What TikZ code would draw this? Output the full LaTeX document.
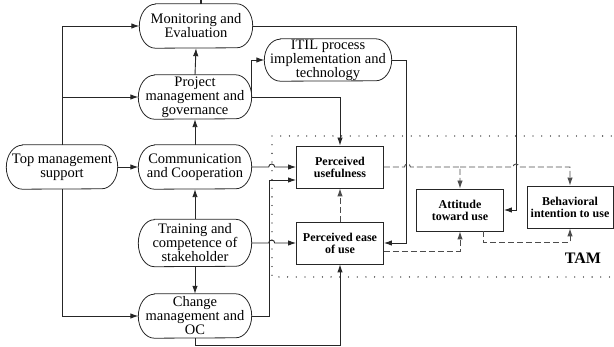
\documentclass[tikz,border=0pt]{standalone}
\usepackage{fontspec}
\setmainfont{Liberation Serif}
\usetikzlibrary{arrows.meta}

\tikzset{
  factor/.style={minimum width=113pt, minimum height=44pt, inner sep=0pt, align=center, font=\fontsize{14.5}{14}\selectfont},
  outline/.style={draw=black!85, line width=0.8pt},
  tambox/.style={draw=black!85, line width=0.9pt, minimum width=87pt, minimum height=42pt, inner sep=0pt, align=center, font=\fontsize{12}{12}\selectfont\bfseries},
  link/.style={->, draw=black!85, line width=0.9pt},
  tamlink/.style={->, draw=black!70, line width=0.9pt, dash pattern=on 6pt off 3pt},
  tamframe/.style={draw=black, line width=1.3pt, line cap=round, dash pattern=on 0pt off 8.7pt},
}

\begin{document}
\begin{tikzpicture}[x=1pt, y=-1pt, >={Latex[length=8pt,width=5.5pt]}]
    \useasboundingbox (0,0) rectangle (614,347);

    % Factors
    \node[factor] (mon) at (196,26) {Monitoring and\\Evaluation};
    \node[factor] (proj) at (195,97) {Project\\management and\\governance};
    \node[factor, minimum width=111pt] (top) at (62,167) {Top management\\support};
    \node[factor] (comm) at (195,167) {Communication\\and Cooperation};
    \node[factor, minimum height=47pt] (train) at (195,243) {Training and\\competence of\\stakeholder};
    \node[factor] (change) at (195,316) {Change\\management and\\OC};
    \node[factor, minimum width=127pt, minimum height=42pt, font=\fontsize{14.5}{13}\selectfont] (itil) at (328,60) {ITIL process\\implementation and\\technology};
    % stadium outlines
    \foreach \n/\h in {mon/22, proj/22, top/22, comm/22, train/23.5, change/22, itil/21}
        \draw[outline] ([xshift=16pt]\n.north west) -- ([xshift=-16pt]\n.north east)
            arc[start angle=-90, end angle=90, x radius=16, y radius=\h]
            -- ([xshift=16pt]\n.south west)
            arc[start angle=90, end angle=270, x radius=16, y radius=\h] -- cycle;

    % TAM
    \draw[tamframe] (620,136) -| (272,277) -- (620,277);
    \node[tambox] (pu) at (340,167) {Perceived\\usefulness};
    \node[tambox] (peu) at (340,243) {Perceived ease\\of use};
    \node[tambox] (att) at (460,210) {Attitude\\toward use};
    \node[tambox, minimum width=86pt] (bi) at (570,207) {Behavioral\\intention to use};
    \node[font=\fontsize{16}{16}\selectfont\bfseries] (tam) at (583,258) {TAM};

    % Links between factors
    \draw[link] (top.east) -- (comm.west);
    \draw[link] (top.north) |- (mon.west);
    \draw[link] (top.north) |- (proj.west);
    \draw[link] (top.south) |- (change.west);
    \draw[link] (comm.north) -- (proj.south);
    \draw[link] (proj.north) -- (mon.south);
    \draw[link] (train.north) -- (comm.south);
    \draw[link] (train.south) -- (change.north);
    \draw[link] (proj.east) |- (itil.west);
    \draw[link] (proj.east) -| (pu.north);
    \draw[draw=black!85, line width=1.2pt] ([xshift=5pt]mon.north) -- ++(0,-5);

    % Links into TAM
    \draw[link] (mon.east) -- ++(264,0) |- (att.east);
    \draw[link] (itil.east) -- ++(15,0) |- (peu.east);
    \draw[link] (comm.east) -- ++(17,0) arc[start angle=180, end angle=360, radius=3] -- (pu.west);
    \draw[link] (train.east) -- ++(17,0) arc[start angle=180, end angle=360, radius=3] -- (peu.west);
    \draw[link] (change.east) -- ++(18,0) |- ([yshift=-13pt]pu.west);
    \draw[link] (change.south) -- ++(0,7) -| (peu.south);

    % TAM links
    \draw[tamlink] (pu.east) -- ++(20.5,0) arc[start angle=180, end angle=360, radius=3] -| (att.north);
    \draw[tamlink] (att.north |- pu.east) -- ++(53,0) arc[start angle=180, end angle=360, radius=3] -| (bi.north);
    \draw[tamlink] (peu.north) -- (pu.south);
    \draw[tamlink] ([yshift=-8pt]peu.east) -| (att.south);
    \draw[tamlink] ([xshift=23pt]att.south) -- ++(0,11) -| (bi.south);
\end{tikzpicture}
\end{document}
